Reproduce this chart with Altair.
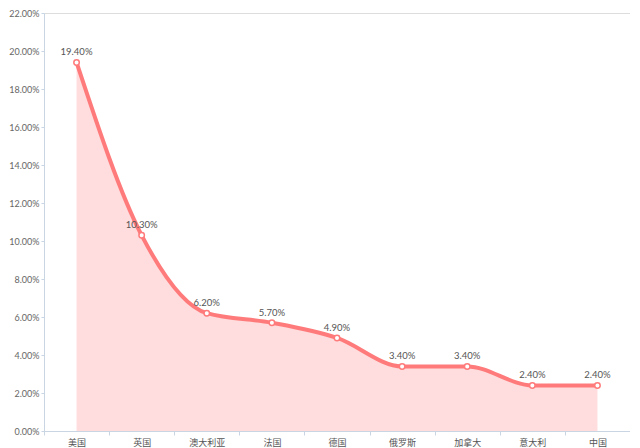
import altair as alt
import pandas as pd

countries = ["美国", "英国", "澳大利亚", "法国", "德国", "俄罗斯", "加拿大", "意大利", "中国"]
shares = [0.194, 0.103, 0.062, 0.057, 0.049, 0.034, 0.034, 0.024, 0.024]

df = pd.DataFrame({"country": countries, "share": shares})

FONT = "Noto Sans CJK SC"
NUMFONT = "Lato"
LINE = "#ff7b7b"

x = alt.X("country:N", sort=countries, title=None, bandPosition=0.5,
          scale=alt.Scale(type="band", paddingInner=0, paddingOuter=0),
          axis=alt.Axis(labelAngle=0, tickBand="extent", domainColor="#c9d5e3",
                        tickColor="#c9d5e3", labelColor="#555", labelFont=FONT,
                        labelFontSize=9, labelPadding=3, tickSize=4, grid=False))
y = alt.Y("share:Q", title=None,
          scale=alt.Scale(domain=[0, 0.22], nice=False),
          axis=alt.Axis(format=".2%", values=[i / 100 for i in range(0, 23, 2)],
                        domainColor="#c9d5e3", tickColor="#c9d5e3", tickSize=3,
                        labelColor="#666", labelFont=NUMFONT, labelFontSize=9,
                        labelPadding=2, grid=False))

base = alt.Chart(df).encode(x=x, y=y)

area = base.mark_area(interpolate="monotone", color="#ffdcdd", opacity=1)
line = base.mark_line(interpolate="monotone", color=LINE, strokeWidth=4)
pts = base.mark_point(filled=True, fill="white", stroke=LINE, strokeWidth=1.5,
                      size=30, opacity=1)
labels = base.mark_text(dy=-10, font=NUMFONT, fontSize=9.5, color="#555").encode(
    text=alt.Text("share:Q", format=".2%"))

chart = (area + line + pts + labels).properties(
    width=586, height=418,
    autosize=alt.AutoSizeParams(type="none"),
    padding={"left": 36, "top": 5, "right": 0, "bottom": 17},
).configure_view(stroke=None).configure(background="white")

chart.save("out.html", embed_options={"renderer": "svg", "actions": False})
